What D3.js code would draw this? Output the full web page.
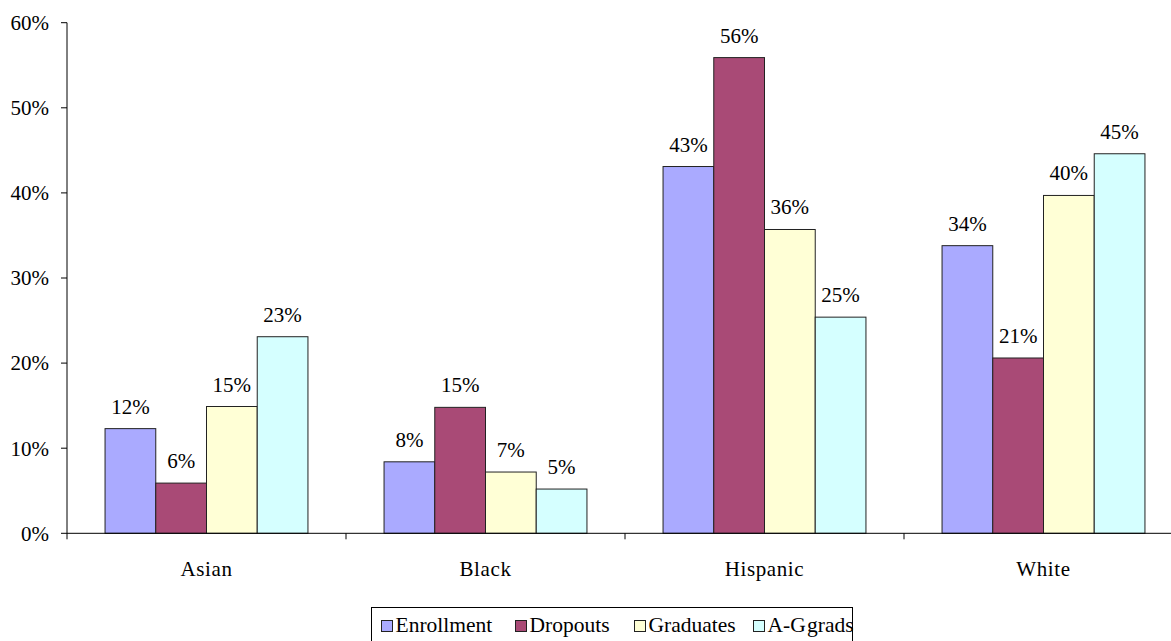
<!DOCTYPE html>
<html>
<head>
<meta charset="utf-8">
<script src="https://cdn.jsdelivr.net/npm/d3@7"></script>
<style>
  html, body { margin: 0; padding: 0; background: #fff; }
  svg { display: block; }
  #chart, #chart text { font-family: "Liberation Serif", Tinos, FreeSerif !important; }
</style>
</head>
<body>
<svg id="chart" width="1171" height="641"></svg>
<script>
// Share of each group (percent) by ethnicity
const categories = ["Asian", "Black", "Hispanic", "White"];
const seriesNames = ["Enrollment", "Dropouts", "Graduates", "A-G grads"];
const enrollment = [12.3, 8.4, 43.1, 33.8];
const dropouts   = [5.9, 14.8, 55.9, 20.6];
const graduates  = [14.9, 7.2, 35.7, 39.7];
const agGrads    = [23.1, 5.2, 25.4, 44.6];
const yTicks = [0, 10, 20, 30, 40, 50, 60];
const colors = ["#AAAAFF", "#A94A76", "#FFFFD6", "#D5FFFF"];

const seriesValues = [enrollment, dropouts, graduates, agGrads];

const svg = d3.select("#chart");
const plotLeft = 67, plotBottom = 533.3, plotTop = 22.7;
const step = 279;

const x0 = d3.scaleBand().domain(categories)
  .range([plotLeft, plotLeft + step * categories.length]).padding(0);
// gap between clusters is 1.5 bar widths
const gapHalf = step * 0.75 / 5.5;
const x1 = d3.scaleBand().domain(seriesNames)
  .range([gapHalf, step - gapHalf]).padding(0);
const y = d3.scaleLinear().domain([0, 60]).range([plotBottom, plotTop]);

function styleText(sel, size) {
  return sel
    .attr("font-family", "Liberation Serif")
    .style("font-family", '"Liberation Serif"')
    .attr("font-size", size)
    .attr("fill", "#000");
}

// bars
const groups = svg.append("g").selectAll("g")
  .data(categories).join("g")
  .attr("transform", d => `translate(${x0(d)},0)`);

groups.each(function(cat, ci) {
  const g = d3.select(this);
  seriesNames.forEach((s, si) => {
    const v = seriesValues[si][ci];
    g.append("rect")
      .attr("x", x1(s))
      .attr("y", y(v))
      .attr("width", x1.bandwidth())
      .attr("height", y(0) - y(v))
      .attr("fill", colors[si])
      .attr("stroke", "#222")
      .attr("stroke-width", 1);
    styleText(g.append("text"), 21)
      .attr("x", x1(s) + x1.bandwidth() / 2)
      .attr("y", y(v) - 15)
      .attr("text-anchor", "middle")
      .text(Math.round(v) + "%");
  });
});

// y axis
const yAxis = svg.append("g");
yAxis.append("line")
  .attr("x1", plotLeft).attr("x2", plotLeft)
  .attr("y1", plotTop).attr("y2", plotBottom + 6)
  .attr("stroke", "#000");
yAxis.selectAll("line.tick").data(yTicks).join("line")
  .attr("class", "tick")
  .attr("x1", plotLeft - 6).attr("x2", plotLeft)
  .attr("y1", d => y(d)).attr("y2", d => y(d))
  .attr("stroke", "#000");
styleText(yAxis.selectAll("text").data(yTicks).join("text"), 21)
  .attr("x", plotLeft - 18)
  .attr("y", d => y(d))
  .attr("dy", "0.35em")
  .attr("text-anchor", "end")
  .text(d => d + "%");

// x axis
const xAxis = svg.append("g");
xAxis.append("line")
  .attr("x1", plotLeft).attr("x2", 1171)
  .attr("y1", plotBottom).attr("y2", plotBottom)
  .attr("stroke", "#000");
xAxis.selectAll("line.tick").data(categories).join("line")
  .attr("class", "tick")
  .attr("x1", d => x0(d) + step).attr("x2", d => x0(d) + step)
  .attr("y1", plotBottom).attr("y2", plotBottom + 6)
  .attr("stroke", "#000");
styleText(xAxis.selectAll("text").data(categories).join("text"), 21)
  .attr("x", d => x0(d) + step / 2)
  .attr("y", 576)
  .attr("text-anchor", "middle")
  .attr("letter-spacing", 0.6)
  .text(d => d);

// legend
const legend = svg.append("g");
legend.append("rect")
  .attr("x", 371.5).attr("y", 607.5)
  .attr("width", 481).attr("height", 40)
  .attr("fill", "#fff").attr("stroke", "#000");
const legendX = [381, 515, 634, 753];
seriesNames.forEach((s, i) => {
  legend.append("rect")
    .attr("x", legendX[i] + 0.5).attr("y", 620.5)
    .attr("width", 11).attr("height", 11)
    .attr("fill", colors[i]).attr("stroke", "#222");
  styleText(legend.append("text"), 21.5)
    .attr("x", legendX[i] + 14.5)
    .attr("y", 632)
    .attr("word-spacing", -4)
    .text(s);
});
</script>
</body>
</html>
